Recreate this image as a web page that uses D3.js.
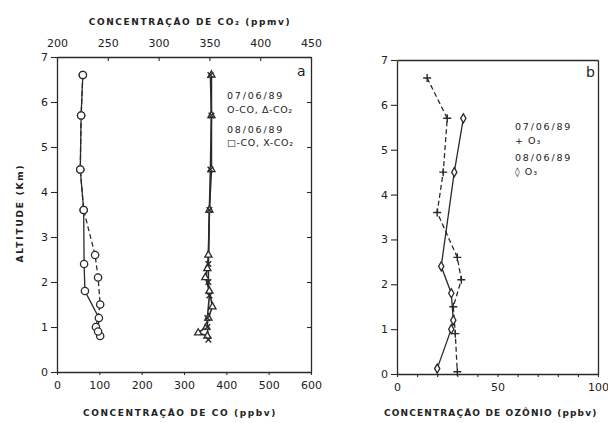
<!DOCTYPE html>
<html>
<head>
<meta charset="utf-8">
<script src="https://cdn.jsdelivr.net/npm/d3@7"></script>
<style>
  body { margin: 0; background: #fff; }
  svg text { font-family: "DejaVu Sans", sans-serif; fill: #222; }
</style>
</head>
<body>
<svg id="chart" width="608" height="423"></svg>
<script>
// altitude (km) vs concentration
const coDay1 = [[6.6, 61], [5.7, 57], [4.5, 55], [3.6, 63], [2.6, 90], [2.1, 97], [1.5, 102], [1.0, 92], [0.8, 102]];
const coDay2 = [[6.6, 61], [5.7, 57], [4.5, 55], [3.6, 63], [2.4, 64], [1.8, 66], [1.2, 99], [0.9, 97]];
const co2Day1 = [[6.6, 352], [5.7, 352], [4.5, 352], [3.6, 350], [2.6, 349], [2.3, 348], [2.1, 346], [1.8, 350], [1.45, 353], [1.2, 349], [1.0, 347], [0.87, 339], [0.8, 348]];
const co2Day2 = [[6.6, 351], [5.7, 352], [4.5, 351], [3.6, 350], [2.4, 349], [2.0, 349], [1.7, 350], [1.2, 348], [1.0, 348], [0.72, 349]];
const o3Day1 = [[6.6, 15], [5.7, 25], [4.5, 23], [3.6, 20], [2.6, 30], [2.1, 32], [1.5, 28], [0.9, 29], [0.05, 30]];
const o3Day2 = [[5.7, 33], [4.5, 28.5], [2.4, 22], [1.8, 27], [1.2, 28], [1.0, 27], [0.12, 20]];

const altTicks = [0, 1, 2, 3, 4, 5, 6, 7];
const coTicks = [0, 100, 200, 300, 400, 500, 600];
const co2Ticks = [200, 250, 300, 350, 400, 450];
const o3Ticks = [0, 50, 100];

const svg = d3.select('#chart');
const ink = '#2a2a2a';
const fmt = d3.format('d');

// ---- panel a ----
const xCO = d3.scaleLinear().domain([0, 600]).range([57, 311]);
const xCO2 = d3.scaleLinear().domain([200, 450]).range([57, 311]);
const yA = d3.scaleLinear().domain([0, 7]).range([372, 57]);

// ---- panel b ----
const xO3 = d3.scaleLinear().domain([0, 100]).range([397, 598]);
const yB = d3.scaleLinear().domain([0, 7]).range([374, 60]);

function styleAxis(g) {
  g.select('.domain').attr('stroke', ink).attr('stroke-width', 1.3);
  g.selectAll('.tick line').attr('stroke', ink).attr('stroke-width', 1.1);
  g.selectAll('.tick text').attr('font-size', 11).attr('fill', ink);
}

// left axis a
svg.append('g').attr('transform', 'translate(57,0)')
  .call(d3.axisLeft(yA).tickValues(altTicks).tickFormat(fmt).tickSize(6).tickSizeOuter(0).tickPadding(3))
  .call(styleAxis);
// bottom axis a
svg.append('g').attr('transform', 'translate(0,372)')
  .call(d3.axisBottom(xCO).tickValues(coTicks).tickFormat(fmt).tickSize(3).tickSizeOuter(0).tickPadding(6))
  .call(styleAxis);
// top axis a (CO2)
svg.append('g').attr('transform', 'translate(0,57)')
  .call(d3.axisTop(xCO2).tickValues(co2Ticks).tickFormat(fmt).tickSize(-4).tickSizeOuter(0).tickPadding(10))
  .call(styleAxis);
// right border a with inward ticks
svg.append('g').attr('transform', 'translate(311,0)')
  .call(d3.axisRight(yA).tickValues(altTicks).tickSize(-4).tickSizeOuter(0).tickFormat(''))
  .call(styleAxis);

// panel b axes
svg.append('g').attr('transform', 'translate(397,0)')
  .call(d3.axisLeft(yB).tickValues(altTicks).tickFormat(fmt).tickSize(6).tickSizeOuter(0).tickPadding(3))
  .call(styleAxis);
svg.append('g').attr('transform', 'translate(0,374)')
  .call(d3.axisBottom(xO3).tickValues(d3.range(0, 101, 10)).tickSize(3).tickSizeOuter(0)
    .tickPadding(6).tickFormat(d => o3Ticks.includes(d) ? fmt(d) : ''))
  .call(styleAxis);
svg.append('g').attr('transform', 'translate(0,60)')
  .call(d3.axisTop(xO3).tickValues([]).tickSizeOuter(0))
  .call(styleAxis);
svg.append('g').attr('transform', 'translate(598,0)')
  .call(d3.axisRight(yB).tickValues([]).tickSizeOuter(0))
  .call(styleAxis);

// line helpers
function drawLine(data, x, y, dash, w) {
  svg.append('path')
    .datum(data)
    .attr('fill', 'none')
    .attr('stroke', ink)
    .attr('stroke-width', w || 1.3)
    .attr('stroke-dasharray', dash || null)
    .attr('d', d3.line().x(d => x(d[1])).y(d => y(d[0])));
}

function drawSymbols(data, x, y, type, size) {
  svg.append('g').selectAll('path')
    .data(data)
    .join('path')
    .attr('transform', d => `translate(${x(d[1])},${y(d[0])})`)
    .attr('d', d3.symbol().type(type).size(size))
    .attr('fill', '#fff')
    .attr('stroke', ink)
    .attr('stroke-width', 1.3);
}

function drawCross(data, x, y, rot) {
  svg.append('g').selectAll('path')
    .data(data)
    .join('path')
    .attr('transform', d => `translate(${x(d[1])},${y(d[0])}) rotate(${rot})`)
    .attr('d', 'M-4,0H4M0,-4V4')
    .attr('fill', 'none')
    .attr('stroke', ink)
    .attr('stroke-width', 1.4);
}

// CO
drawLine(coDay1, xCO, yA, '5,3');
drawLine(coDay2, xCO, yA);
drawSymbols(coDay1, xCO, yA, d3.symbolCircle, 42);
drawSymbols(coDay2, xCO, yA, d3.symbolCircle, 42);

// CO2
drawLine(co2Day1, xCO2, yA, null, 1.6);
drawLine(co2Day2, xCO2, yA, null, 1.6);
drawSymbols(co2Day1, xCO2, yA, d3.symbolTriangle, 22);
drawCross(co2Day2, xCO2, yA, 45);

// O3
drawLine(o3Day1, xO3, yB, '5,3');
drawLine(o3Day2, xO3, yB);
drawCross(o3Day1, xO3, yB, 0);
drawSymbols(o3Day2, xO3, yB, d3.symbolDiamond, 24);

// text
function label(x, y, t, opts) {
  opts = opts || {};
  return svg.append('text')
    .attr('x', x).attr('y', y)
    .attr('font-size', opts.size || 9)
    .attr('font-weight', opts.weight || 'normal')
    .attr('letter-spacing', opts.ls || 0)
    .attr('text-anchor', opts.anchor || 'start')
    .text(t);
}

label(190, 25, 'CONCENTRAÇÃO DE CO₂ (ppmv)', { anchor: 'middle', ls: 1.6, weight: 'bold' });
label(180, 416, 'CONCENTRAÇÃO DE CO (ppbv)', { anchor: 'middle', ls: 1.6, weight: 'bold' });
label(384, 416, 'CONCENTRAÇÃO DE OZÔNIO (ppbv)', { ls: 1.15, weight: 'bold' });
svg.append('text')
  .attr('transform', 'translate(23,213) rotate(-90)')
  .attr('text-anchor', 'middle')
  .attr('font-size', 9).attr('font-weight', 'bold').attr('letter-spacing', 1.8)
  .text('ALTITUDE (Km)');

label(297, 76, 'a', { size: 14 });
label(586, 77, 'b', { size: 14 });

label(227, 99, '07/06/89', { size: 9.5, ls: 1.8 });
label(227, 113, 'O-CO, Δ-CO₂', { size: 9.5, ls: 0.6 });
label(227, 133, '08/06/89', { size: 9.5, ls: 1.8 });
label(227, 146, '□-CO, X-CO₂', { size: 9.5, ls: 0.6 });

label(515, 130, '07/06/89', { size: 9.5, ls: 1.8 });
label(515, 144, '+ O₃', { size: 9.5, ls: 1 });
label(515, 161, '08/06/89', { size: 9.5, ls: 1.8 });
label(515, 175, '◊ O₃', { size: 9.5, ls: 1 });
</script>
</body>
</html>
